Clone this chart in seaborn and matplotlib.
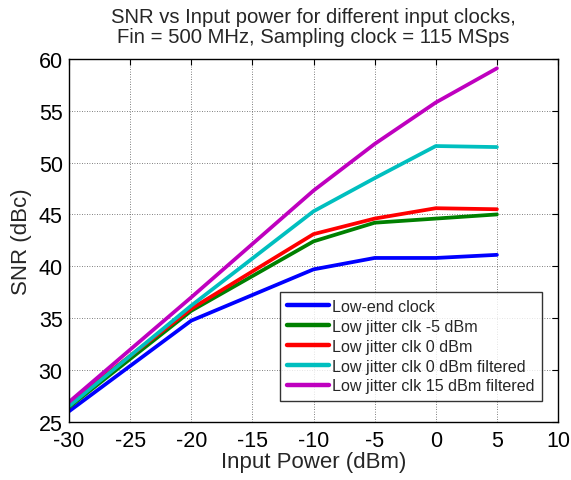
import numpy as np
import pandas as pd
import matplotlib
matplotlib.use("Agg")
import matplotlib.pyplot as plt
import seaborn as sns

input_power = [-30, -20, -10, -5, 0, 5]
low_end_clock = [26.0, 34.75, 39.7, 40.8, 40.8, 41.1]
low_jitter_m5 = [26.4, 35.7, 42.4, 44.2, 44.6, 45.0]
low_jitter_0 = [26.8, 35.9, 43.1, 44.6, 45.6, 45.5]
low_jitter_0_filt = [26.5, 36.2, 45.3, 48.5, 51.6, 51.5]
low_jitter_15_filt = [26.9, 37.0, 47.3, 51.8, 55.8, 59.1]

series_names = ["Low-end clock", "Low jitter clk -5 dBm", "Low jitter clk 0 dBm",
                "Low jitter clk 0 dBm filtered", "Low jitter clk 15 dBm filtered"]
series_values = [low_end_clock, low_jitter_m5, low_jitter_0, low_jitter_0_filt, low_jitter_15_filt]
colors = ["#0000ff", "#008000", "#ff0000", "#00bfbf", "#bf00bf"]
x_ticks = [-30, -25, -20, -15, -10, -5, 0, 5, 10]
y_ticks = [25, 30, 35, 40, 45, 50, 55, 60]

df = pd.DataFrame({
    "Input Power (dBm)": np.tile(input_power, len(series_names)),
    "SNR (dBc)": np.concatenate(series_values),
    "Series": np.repeat(series_names, len(input_power)),
})

sns.set_style("white")
plt.rcParams['font.family'] = ['Liberation Sans', 'DejaVu Sans']
plt.rcParams['axes.unicode_minus'] = False

fig = plt.figure(figsize=(5.71, 4.81), dpi=100)
ax = fig.add_axes([0.1208, 0.1212, 0.8565, 0.7541])

sns.lineplot(data=df, x="Input Power (dBm)", y="SNR (dBc)", hue="Series",
             hue_order=series_names, palette=colors, linewidth=2.7, ax=ax,
             sort=False, estimator=None)

ax.set_xlim(-30, 10)
ax.set_ylim(25, 60)
ax.set_xticks(x_ticks)
ax.set_yticks(y_ticks)
ax.grid(True, color="#555555", linestyle=(0, (1, 2)), linewidth=0.6)
for s in ax.spines.values():
    s.set_visible(True)
    s.set_color("black")
    s.set_linewidth(1.0)
ax.tick_params(direction="in", length=4, width=0.8, top=True, right=True,
               labelsize=15.5, colors="black")
ax.tick_params(axis="x", pad=6)
ax.tick_params(axis="y", pad=4.5)
ax.set_xlabel("Input Power (dBm)", fontsize=16, labelpad=0)
ax.set_ylabel("SNR (dBc)", fontsize=16, labelpad=5)
ax.set_title("SNR vs Input power for different input clocks,\nFin = 500 MHz, Sampling clock = 115 MSps",
             fontsize=14.6, pad=12, linespacing=1.08)

leg = ax.legend(loc="lower right", bbox_to_anchor=(0.967, 0.058), fontsize=11.6,
                frameon=True, fancybox=False, borderpad=0.45, labelspacing=0.3,
                handlelength=2.6, handletextpad=0.2, borderaxespad=0)
leg.get_frame().set_edgecolor("black")
leg.get_frame().set_linewidth(1.0)
for line in leg.get_lines():
    line.set_linewidth(3.2)

fig.savefig("out.png", dpi=100)
